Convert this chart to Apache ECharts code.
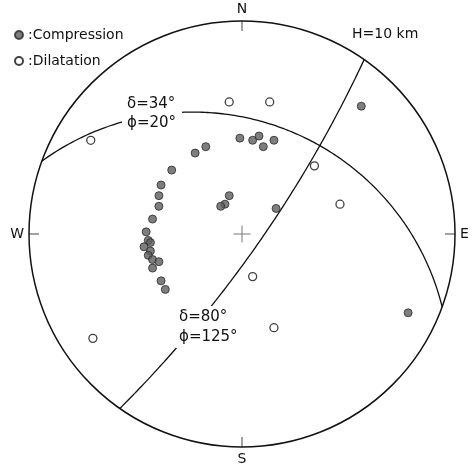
<!doctype html>
<html>
<head>
<meta charset="utf-8">
<title>Focal mechanism</title>
<script src="https://cdn.jsdelivr.net/npm/echarts@6/dist/echarts.min.js"></script>
<style>html,body{margin:0;padding:0;background:#fff;}</style>
</head>
<body>
<div id="chart" style="width:475px;height:469px;"></div>
<script type="text/javascript">

    // compass labels at 0, 90, 180, 270 deg
    var compassLabels = ['N', 'E', 'S', 'W'];

    // nodal planes: dip (delta) and dip direction (phi), degrees
    var planeDip = [34, 80];
    var planeDipDir = [20, 125];

    // station polarities, position on the net (unit radius, x = east, y = north)
    var compression = [
        [-0.01, 0.45], [0.05, 0.44], [0.08, 0.46], [0.15, 0.44], [0.10, 0.41],
        [-0.17, 0.41], [-0.22, 0.38], [-0.33, 0.30], [-0.38, 0.23], [-0.39, 0.18],
        [-0.39, 0.13], [-0.42, 0.07], [-0.45, 0.01], [-0.44, -0.03], [-0.43, -0.04],
        [-0.46, -0.06], [-0.43, -0.08], [-0.44, -0.10], [-0.42, -0.12], [-0.39, -0.13],
        [-0.42, -0.16], [-0.38, -0.22], [-0.36, -0.26], [-0.06, 0.18], [-0.08, 0.14],
        [-0.10, 0.13], [0.16, 0.12], [0.56, 0.60], [0.78, -0.37]
    ];
    var dilatation = [
        [-0.71, 0.44], [-0.06, 0.62], [0.13, 0.62], [0.34, 0.32],
        [0.46, 0.14], [0.05, -0.20], [0.15, -0.44], [-0.70, -0.49]
    ];

    var rad = Math.PI / 180;

    // great circle of a plane, lower hemisphere stereographic projection
    function nodalPlane(dip, dipDir) {
        var s = (dipDir - 90) * rad, dd = dipDir * rad, d = dip * rad;
        var pts = [];
        for (var l = 0; l <= 180; l += 1) {
            var c = Math.cos(l * rad), sn = Math.sin(l * rad);
            var n = c * Math.cos(s) + sn * Math.cos(dd) * Math.cos(d);
            var e = c * Math.sin(s) + sn * Math.sin(dd) * Math.cos(d);
            var z = sn * Math.sin(d);
            var plunge = Math.asin(Math.min(1, z));
            var r = Math.tan((Math.PI / 2 - plunge) / 2);
            var t = Math.atan2(e, n);
            pts.push([r * Math.sin(t), r * Math.cos(t)]);
        }
        return pts;
    }

    var chart = echarts.init(document.getElementById('chart'));
    var font = 'DejaVu Sans';

    var planeSeries = planeDip.map(function (dip, i) {
        return {
            type: 'line',
            data: nodalPlane(dip, planeDipDir[i]),
            showSymbol: false,
            smooth: false,
            silent: true,
            lineStyle: {color: '#111', width: 1.3},
            z: 1
        };
    });

    function labelBox(x, y, w, h, lines) {
        var els = [{type: 'rect', shape: {x: x, y: y, width: w, height: h}, style: {fill: '#fff'}, z: 50}];
        lines.forEach(function (ln) {
            els.push({type: 'text', x: ln[0], y: ln[1], z: 51,
                style: {text: ln[2], font: '15px "' + font + '"', fill: '#111', verticalAlign: 'middle'}});
        });
        return els;
    }

    var option = {
        animation: false,
        polar: {center: [242, 234], radius: 213},
        angleAxis: {
            type: 'value', min: 0, max: 360, interval: 90,
            startAngle: 90, clockwise: true,
            axisLine: {lineStyle: {color: '#111', width: 1.5}},
            axisTick: {inside: true, length: 10, lineStyle: {color: '#444', width: 1}},
            axisLabel: {
                margin: 5, fontSize: 14, fontFamily: font, color: '#111',
                formatter: function (v) { return v < 360 ? compassLabels[v / 90] : ''; }
            },
            splitLine: {show: false}
        },
        radiusAxis: {show: false, min: 0, max: 1},
        grid: {left: 29, top: 21, width: 426, height: 426},
        xAxis: {type: 'value', min: -1, max: 1, show: false},
        yAxis: {type: 'value', min: -1, max: 1, show: false},
        legend: {
            orient: 'vertical', left: 9, top: 23,
            itemWidth: 8, itemHeight: 8, itemGap: 12,
            data: ['Compression', 'Dilatation'],
            formatter: ':{name}',
            textStyle: {fontSize: 14, fontFamily: font, color: '#111'},
            selectedMode: false
        },
        graphic: [
            {type: 'text', x: 352, y: 34, z: 51,
                style: {text: 'H=10 km', font: '14px "' + font + '"', fill: '#111', verticalAlign: 'middle'}}
        ].concat(
            labelBox(122, 95, 60, 37, [[127, 104, 'δ=34°'], [127, 123, 'ϕ=20°']]),
            labelBox(176, 306, 59, 42, [[179, 317, 'δ=80°'], [179, 337, 'ϕ=125°']])
        ),
        series: planeSeries.concat([
            {
                name: 'Compression', type: 'scatter', data: compression,
                symbol: 'circle', symbolSize: 8,
                itemStyle: {color: '#5e5e5e', borderColor: '#2a2a2a', borderWidth: 1},
                z: 3
            },
            {
                name: 'Dilatation', type: 'scatter', data: dilatation,
                symbol: 'circle', symbolSize: 8,
                itemStyle: {color: '#fff', borderColor: '#111', borderWidth: 1.3},
                z: 3
            },
            {
                type: 'scatter', data: [[0, 0]], silent: true,
                symbol: 'path://M0,8h17v1h-17z M8,0h1v17h-1z', symbolSize: 17,
                itemStyle: {color: '#555'},
                z: 3
            }
        ])
    };

    chart.setOption(option);

</script>
</body>
</html>
